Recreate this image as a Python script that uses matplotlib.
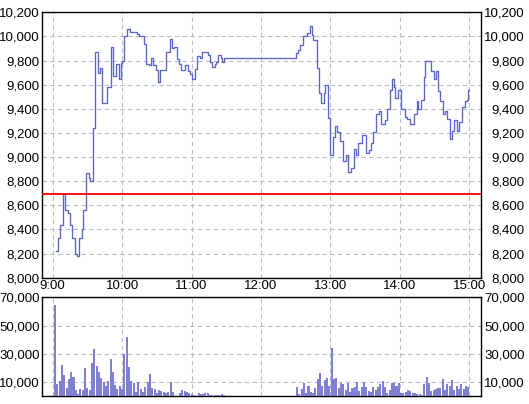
import matplotlib
matplotlib.use('Agg')
import matplotlib.pyplot as plt
from matplotlib.ticker import FuncFormatter

plt.rcParams['font.family'] = ['Liberation Sans', 'DejaVu Sans']

# intraday price steps (time of change, new price)
price_times = [
    '9:03', '9:05', '9:06', '9:09', '9:11', '9:13', '9:15', '9:17', '9:19', '9:21',
    '9:23', '9:25', '9:26', '9:29', '9:31', '9:32', '9:35', '9:37', '9:39', '9:41',
    '9:43', '9:47', '9:50', '9:52', '9:55', '9:57', '9:59', '10:00', '10:02', '10:04',
    '10:07', '10:13', '10:15', '10:19', '10:21', '10:23', '10:25', '10:27', '10:29', '10:31',
    '10:33', '10:38', '10:41', '10:43', '10:45', '10:47', '10:49', '10:51', '10:54', '10:57',
    '10:59', '11:00', '11:03', '11:05', '11:07', '11:09', '11:14', '11:16', '11:18', '11:20',
    '11:21', '11:23', '11:25', '11:26', '11:28',
    '12:30', '12:32', '12:34', '12:36', '12:40', '12:42', '12:44', '12:45', '12:48', '12:50',
    '12:52', '12:54', '12:55', '12:58', '13:00', '13:02', '13:04', '13:06', '13:08', '13:11',
    '13:13', '13:15', '13:18', '13:20', '13:22', '13:24', '13:27', '13:31', '13:33', '13:35',
    '13:37', '13:39', '13:42', '13:44', '13:47', '13:49', '13:51', '13:53', '13:55', '13:56',
    '13:58', '14:01', '14:04', '14:06', '14:09', '14:12', '14:15', '14:16', '14:18', '14:21',
    '14:22', '14:27', '14:29', '14:31', '14:33', '14:35', '14:37', '14:39', '14:41', '14:43',
    '14:45', '14:47', '14:49', '14:51', '14:54', '14:56', '14:58', '14:59', '15:00',
]
prices = [
    8220, 8330, 8440, 8690, 8560, 8540, 8440, 8330, 8200, 8180,
    8330, 8400, 8560, 8870, 8830, 8800, 9240, 9870, 9700, 9740,
    9450, 9580, 9910, 9670, 9770, 9650, 9780, 9800, 10000, 10060,
    10040, 10020, 10000, 9940, 9770, 9760, 9820, 9760, 9720, 9620,
    9720, 9870, 9980, 9900, 9910, 9810, 9770, 9720, 9760, 9710,
    9690, 9650, 9730, 9840, 9820, 9870, 9850, 9790, 9750, 9770,
    9790, 9850, 9825, 9790, 9820,
    9860, 9890, 9925, 10000, 10030, 10090, 10010, 9970, 9735, 9530,
    9450, 9530, 9600, 9320, 9020, 9165, 9255, 9205, 9130, 8965,
    9020, 8880, 8910, 9070, 9020, 9120, 9185, 9030, 9055, 9120,
    9210, 9355, 9380, 9275, 9305, 9400, 9555, 9645, 9580, 9490,
    9560, 9400, 9330, 9315, 9275, 9355, 9465, 9400, 9470, 9660,
    9795, 9712, 9650, 9712, 9545, 9465, 9355, 9385, 9315, 9150,
    9215, 9305, 9215, 9290, 9415, 9465, 9470, 9555, 9555,
]
prev_close = 8690

# volume per 2 minutes, morning from 9:02, afternoon from 12:31
vol_am = [
    64500, 8500, 10600, 22000, 15000, 6000, 12000, 17000, 13500, 4300,
    1200, 5000, 4300, 20000, 5700, 4300, 23600, 33000, 21000, 16800,
    13000, 10000, 7000, 10400, 26000, 17000, 7800, 4700, 7000, 5000,
    30000, 42000, 20300, 10900, 9000, 2600, 10000, 4700, 2600, 6600,
    10000, 15600, 5900, 4700, 2400, 4000, 3300, 2800, 2400, 2800,
    10000, 2800, 0, 0, 2400, 4300, 3800, 2600, 1900, 1400,
    800, 0, 2100, 1400, 1200, 1900, 2100, 1000, 800, 800,
    1000, 800, 1200, 500,
]
vol_pm = [
    6600, 1400, 5200, 9000, 2400, 7000, 2600, 2400, 5400, 12300,
    16000, 7000, 11300, 12800, 7000, 33800, 12300,
    12500, 5400, 9500, 8300, 4300, 9000, 2800, 5900, 6100, 10000,
    3500, 6100, 9700, 6100, 3300, 3000, 6100, 4300, 6600, 8500,
    10900, 6100, 1900, 4300, 9000, 9200, 7000, 9000, 2400, 1900,
    2800, 4300, 3300, 2400, 1900, 1600, 1200, 700,
    8500, 13700, 9500, 3500, 4300, 4700, 5700, 5900, 11800, 4300,
    8300, 7000, 11300, 4300, 7000, 5200, 8500, 4700, 7000, 6100,
]

hour_labels = ['9:00', '10:00', '11:00', '12:00', '13:00', '14:00', '15:00']
price_ticks = list(range(8000, 10201, 200))
vol_ticks = [10000, 30000, 50000, 70000]

LINE = '#5b66c4'
BAR = '#8080d2'
GRID = '#b7bccb'


def to_min(s):
    h, m = s.split(':')
    return (int(h) - 9) * 60 + int(m)


W, H = 529, 404
fig = plt.figure(figsize=(W / 100, H / 100), dpi=100)
fig.patch.set_facecolor('white')
ax = fig.add_axes([42 / W, 1 - 277.7 / H, 439 / W, 265.4 / H])
axv = fig.add_axes([42 / W, 1 - 396 / H, 439 / W, 98.7 / H])

hour_pos = [to_min(h) for h in hour_labels]
xlim = (-9.2, 370)
comma = FuncFormatter(lambda v, p: f'{v:,.0f}')

# price
ax.step([to_min(t) for t in price_times], prices, where='post', color=LINE, lw=0.95, zorder=3)
ax.axhline(prev_close, color='#ff0000', lw=1.3, zorder=4)
ax.set_xlim(*xlim)
ax.set_ylim(8000, 10200)
ax.set_xticks(hour_pos)
ax.set_xticklabels(hour_labels)
ax.set_yticks(price_ticks)
ax.yaxis.set_major_formatter(comma)

# volume
am_x = [2 * (k + 1) for k in range(len(vol_am))]
pm_x = [to_min('12:31') + 2 * k for k in range(len(vol_pm))]
axv.bar(am_x + pm_x, vol_am + vol_pm, width=1.75, color=BAR, linewidth=0, zorder=3)
axv.set_xlim(*xlim)
axv.set_ylim(0, 70000)
axv.set_xticks(hour_pos)
axv.set_xticklabels([])
axv.set_yticks(vol_ticks)
axv.yaxis.set_major_formatter(comma)

for a in (ax, axv):
    a.grid(True, color=GRID, linestyle=(0, (4, 3)), lw=0.8)
    a.tick_params(length=0, labelsize=9.5, pad=1.5, colors='black')
    for s in a.spines.values():
        s.set_color('black')
        s.set_linewidth(1.0)
    # right-side labels, right aligned at figure edge
    r = a.twinx()
    r.set_ylim(a.get_ylim())
    r.set_yticks(a.get_yticks())
    r.yaxis.set_major_formatter(comma)
    r.tick_params(length=0, labelsize=9.5, pad=31.5)
    plt.setp(r.get_yticklabels(), ha='right')
    for s in r.spines.values():
        s.set_visible(False)

fig.savefig('out.png', dpi=100, facecolor='white')
